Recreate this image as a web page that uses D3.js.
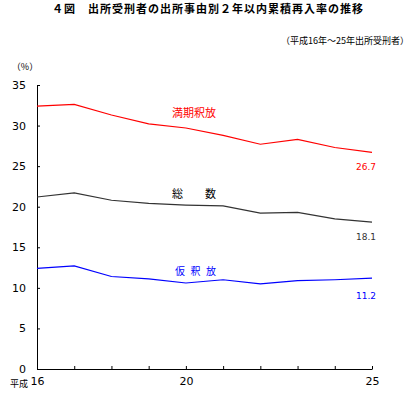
<!DOCTYPE html>
<html>
<head>
<meta charset="utf-8">
<script src="https://cdn.jsdelivr.net/npm/d3@7"></script>
<style>
  body { margin: 0; background: #fff; }
  svg { display: block; }
  .tick text { font-family: "DejaVu Sans", sans-serif; font-size: 11px; fill: #000; }
</style>
</head>
<body>
<div id="chart"></div>
<script>
// years (Heisei 16 - 25)
const years = [16, 17, 18, 19, 20, 21, 22, 23, 24, 25];
const mankiShakuho = [32.4, 32.6, 31.3, 30.2, 29.7, 28.8, 27.7, 28.3, 27.3, 26.7];
const soSu = [21.2, 21.7, 20.8, 20.4, 20.2, 20.1, 19.2, 19.3, 18.5, 18.1];
const kariShakuho = [12.4, 12.7, 11.4, 11.1, 10.6, 11.0, 10.5, 10.9, 11.0, 11.2];
const yTicks = [0, 5, 10, 15, 20, 25, 30, 35];
const xLabelled = [16, 20, 25];

const width = 413, height = 397;
const jp = '"Noto Sans CJK JP", sans-serif';

const svg = d3.select("#chart").append("svg")
  .attr("width", width)
  .attr("height", height);

const x = d3.scaleLinear().domain([16, 25]).range([37, 372]);
const y = d3.scaleLinear().domain([0, 35]).range([369, 85]);

// title
svg.append("text")
  .attr("x", 208).attr("y", 13)
  .attr("text-anchor", "middle")
  .style("font-family", jp).style("font-size", "11px").style("font-weight", "bold")
  .style("letter-spacing", "1px")
  .text("４図　出所受刑者の出所事由別２年以内累積再入率の推移");

svg.append("text")
  .attr("x", 409).attr("y", 44)
  .attr("text-anchor", "end")
  .style("font-family", jp).style("font-size", "9px")
  .text("（平成16年～25年出所受刑者）");

svg.append("text")
  .attr("x", 25).attr("y", 70)
  .attr("text-anchor", "middle")
  .style("font-family", jp).style("font-size", "9px")
  .text("（%）");

// axes
svg.append("g")
  .attr("transform", "translate(" + x(16) + ",0)")
  .call(d3.axisLeft(y).tickValues(yTicks).tickSizeInner(-3).tickSizeOuter(0).tickPadding(11));

svg.append("g")
  .attr("transform", "translate(0," + y(0) + ")")
  .call(d3.axisBottom(x).tickValues(years).tickSizeInner(-3).tickSizeOuter(0).tickPadding(8)
    .tickFormat(d => xLabelled.includes(d) ? d : ""));

svg.selectAll(".domain").attr("stroke", "#000");
svg.selectAll(".tick line").attr("stroke", "#000");

svg.append("text")
  .attr("x", x(16) - 9).attr("y", 387)
  .attr("text-anchor", "end")
  .style("font-family", jp).style("font-size", "9px")
  .text("平成");

// lines
const series = [
  { name: "満期釈放", values: mankiShakuho, color: "#ff0000" },
  { name: "総数", values: soSu, color: "#333333" },
  { name: "仮釈放", values: kariShakuho, color: "#0000ff" }
];

const line = d3.line()
  .x((d, i) => x(years[i]))
  .y(d => y(d));

svg.selectAll(".series")
  .data(series)
  .enter()
  .append("path")
  .attr("d", d => line(d.values))
  .attr("fill", "none")
  .attr("stroke", d => d.color)
  .attr("stroke-width", 1.2);

// end values
const last = years.length - 1;
const endOffsets = [18, 18, 21];
series.forEach((s, i) => {
  svg.append("text")
    .attr("x", x(years[last]) + 4)
    .attr("y", y(s.values[last]) + endOffsets[i])
    .attr("text-anchor", "end")
    .style("font-family", '"DejaVu Sans", sans-serif').style("font-size", "9px")
    .attr("fill", s.color)
    .text(s.values[last].toFixed(1));
});

// series names
svg.append("text")
  .attr("x", 172).attr("y", 117)
  .style("font-family", jp).style("font-size", "11px")
  .attr("fill", "#ff0000")
  .text("満期釈放");

svg.append("text")
  .attr("x", 172).attr("y", 198)
  .style("font-family", jp).style("font-size", "11px")
  .attr("fill", "#000")
  .text("総　　数");

svg.append("text")
  .attr("x", 175).attr("y", 275)
  .style("font-family", jp).style("font-size", "10px")
  .style("letter-spacing", "5.5px")
  .attr("fill", "#0000ff")
  .text("仮釈放");
</script>
</body>
</html>
